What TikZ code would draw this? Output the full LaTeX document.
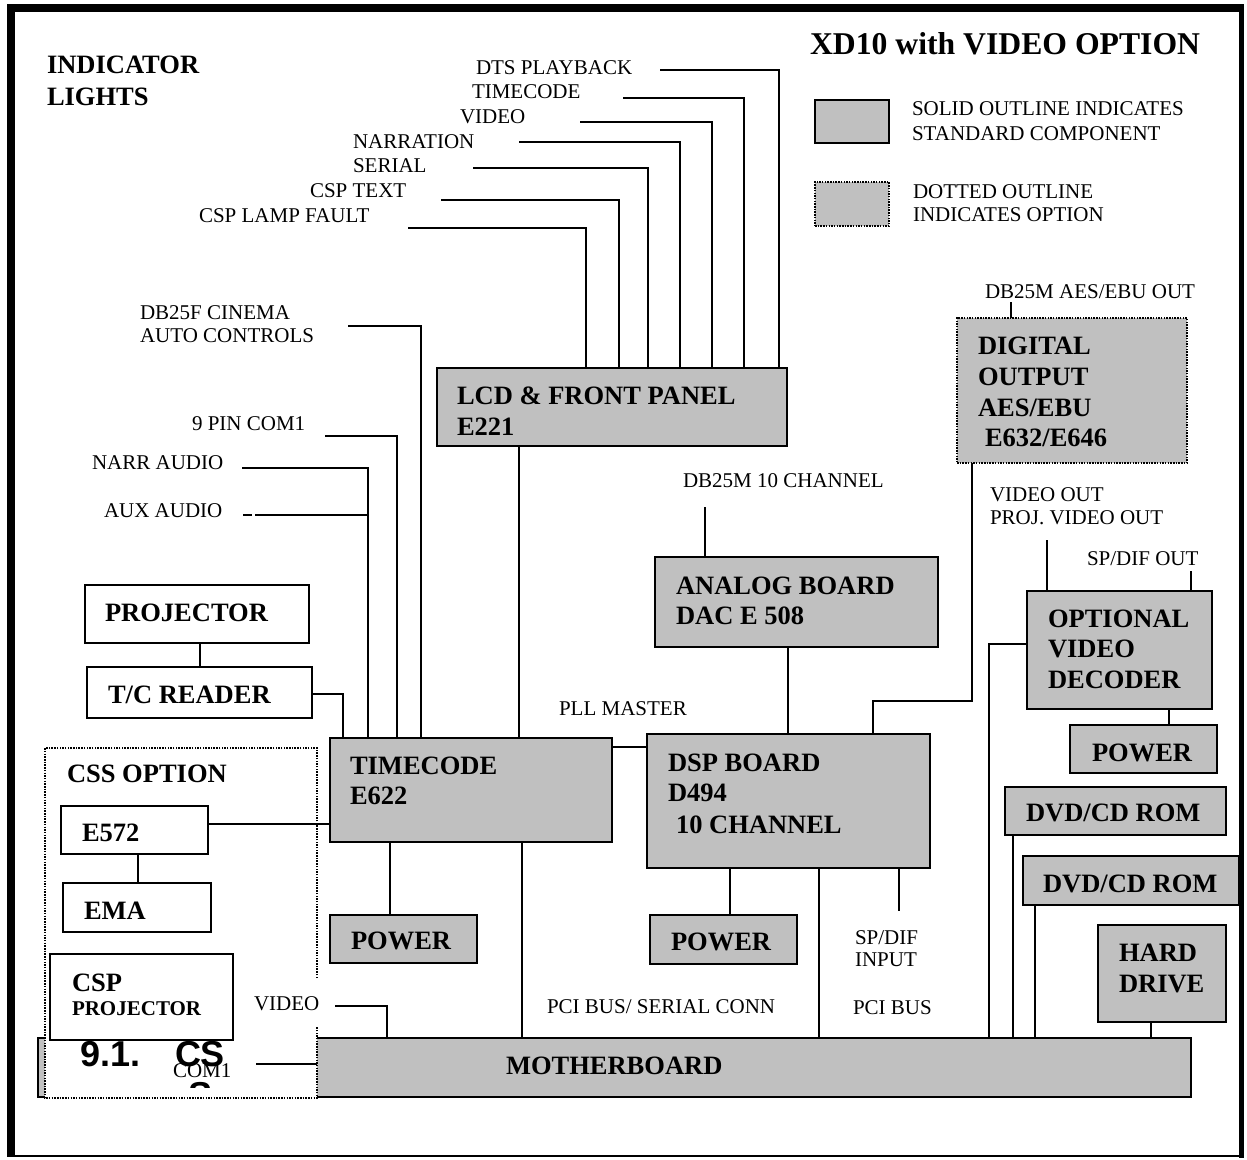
\documentclass[tikz,border=0pt]{standalone}
\usepackage{fontspec}
\setmainfont{Liberation Serif}
\newfontfamily\hsans{Liberation Sans}
\definecolor{boxgray}{RGB}{192,192,192}
\begin{document}
\begin{tikzpicture}[x=1pt,y=-1pt,
  every node/.style={inner sep=0pt, outer sep=0pt},
  box/.style={draw, line width=1.6pt, fill=boxgray, anchor=north west},
  wbox/.style={draw, line width=1.6pt, fill=white, anchor=north west},
  dbox/.style={draw, line width=1.5pt, dash pattern=on 1.5pt off 1.2pt, fill=boxgray, anchor=north west},
  conn/.style={line width=1.4pt},
  lab/.style={font=\fontsize{21}{24}\selectfont, anchor=base west},
  bt/.style={font=\fontsize{26.5}{30}\selectfont\bfseries, anchor=base west}]
\useasboundingbox (0,0) rectangle (1247,1159);
% frame
\draw[line width=8pt] (11,1156) -- (11,8) -- (1244,8);
\draw[line width=5.5pt] (1241.5,4) -- (1241.5,1158);
\draw[line width=2.5pt] (7,1156) -- (1244,1156);

% boxes
\node[box, minimum width=1153pt, minimum height=59pt] (mb) at (38,1038) {};
\fill[white] (45,748) rectangle (317,1098);
\draw[line width=1.5pt, dash pattern=on 1.5pt off 1.2pt] (317,978) -- (317,748) -- (45,748) -- (45,1098) -- (317,1098) -- (317,1027);
\node[box, minimum width=350pt, minimum height=78pt] (lcd) at (437,368) {};
\node[dbox, minimum width=230pt, minimum height=145pt] (dig) at (957,318) {};
\node[box, minimum width=283pt, minimum height=90pt] (ana) at (655,557) {};
\node[box, minimum width=282pt, minimum height=104pt] (tc) at (330,738) {};
\node[box, minimum width=283pt, minimum height=134pt] (dsp) at (647,734) {};
\node[wbox, minimum width=224pt, minimum height=58pt] (proj) at (85,585) {};
\node[wbox, minimum width=225pt, minimum height=51pt] (tcr) at (87,667) {};
\node[wbox, minimum width=147pt, minimum height=48pt] (e572) at (61,806) {};
\node[wbox, minimum width=148pt, minimum height=49pt] (ema) at (63,883) {};
\node[wbox, minimum width=183pt, minimum height=86pt] (csp) at (50,954) {};
\node[box, minimum width=147pt, minimum height=48pt] (pw1) at (330,915) {};
\node[box, minimum width=147pt, minimum height=49pt] (pw2) at (650,915) {};
\node[box, minimum width=185pt, minimum height=118pt] (ovd) at (1027,591) {};
\node[box, minimum width=147pt, minimum height=48pt] (pw3) at (1070,725) {};
\node[box, minimum width=221pt, minimum height=48pt] (dvd1) at (1005,787) {};
\node[box, minimum width=216pt, minimum height=49pt] (dvd2) at (1023,856) {};
\node[box, minimum width=128pt, minimum height=97pt] (hd) at (1098,925) {};
\node[box, minimum width=74pt, minimum height=43pt] (legs) at (815,100) {};
\node[dbox, minimum width=74pt, minimum height=44pt] (legd) at (815,182) {};

% free ends
\coordinate (cDTS) at (660,70);
\coordinate (cTC) at (623,98);
\coordinate (cVID) at (580,122);
\coordinate (cNAR) at (519,142);
\coordinate (cSER) at (473,168);
\coordinate (cTXT) at (441,200);
\coordinate (cLMP) at (408,228);
\coordinate (cDB25F) at (348,326);
\coordinate (c9PIN) at (325,436);
\coordinate (cNARR) at (242,468);
\coordinate (cAUX) at (255,515);
\coordinate (cDB10) at (705,507);
\coordinate (cAES) at (1011,302);
\coordinate (cSPIN) at (899,911);
\coordinate (cVOUT) at (1047,540);
\coordinate (cSPOUT) at (1191,571);
\coordinate (cVIDB) at (335,1006);
\coordinate (cCOM) at (256,1064);
\coordinate (cCOMe) at (317,1064);

% connectors
\draw[conn] (cDTS) -- (779,70) -- (lcd.north -| 779,0);
\draw[conn] (cTC) -- (744,98) -- (lcd.north -| 744,0);
\draw[conn] (cVID) -- (712,122) -- (lcd.north -| 712,0);
\draw[conn] (cNAR) -- (680,142) -- (lcd.north -| 680,0);
\draw[conn] (cSER) -- (648,168) -- (lcd.north -| 648,0);
\draw[conn] (cTXT) -- (619,200) -- (lcd.north -| 619,0);
\draw[conn] (cLMP) -- (586,228) -- (lcd.north -| 586,0);
\draw[conn] (cDB25F) -- (421,326) -- (tc.north -| 421,0);
\draw[conn] (c9PIN) -- (397,436) -- (tc.north -| 397,0);
\draw[conn] (cNARR) -- (368,468) -- (tc.north -| 368,0);
\draw[conn] (243,515) -- (252,515);
\draw[conn] (cAUX) -- (368,515);
\draw[conn] (tcr.east |- 0,694) -- (343,694) -- (tc.north -| 343,0);
\draw[conn] (proj.south -| 200,0) -- (tcr.north -| 200,0);
\draw[conn] (lcd.south -| 519,0) -- (tc.north -| 519,0);
\draw[conn] (tc.east |- 0,747) -- (dsp.west |- 0,747);
\draw[conn] (ana.south -| 788,0) -- (dsp.north -| 788,0);
\draw[conn] (cDB10) -- (ana.north -| 705,0);
\draw[conn] (dig.south -| 972,0) -- (972,701) -- (873,701) -- (dsp.north -| 873,0);
\draw[conn] (cAES) -- (dig.north -| 1011,0);
\draw[conn] (e572.east |- 0,824) -- (tc.west |- 0,824);
\draw[conn] (e572.south -| 138,0) -- (ema.north -| 138,0);
\draw[conn] (tc.south -| 390,0) -- (pw1.north -| 390,0);
\draw[conn] (tc.south -| 522,0) -- (mb.north -| 522,0);
\draw[conn] (dsp.south -| 730,0) -- (pw2.north -| 730,0);
\draw[conn] (dsp.south -| 819,0) -- (mb.north -| 819,0);
\draw[conn] (dsp.south -| 899,0) -- (cSPIN);
\draw[conn] (cVOUT) -- (ovd.north -| 1047,0);
\draw[conn] (cSPOUT) -- (ovd.north -| 1191,0);
\draw[conn] (ovd.west |- 0,644) -- (989,644) -- (mb.north -| 989,0);
\draw[conn] (ovd.south -| 1169,0) -- (pw3.north -| 1169,0);
\draw[conn] (dvd1.south -| 1013,0) -- (mb.north -| 1013,0);
\draw[conn] (dvd2.south -| 1035,0) -- (mb.north -| 1035,0);
\draw[conn] (hd.south -| 1151,0) -- (mb.north -| 1151,0);
\draw[conn] (cVIDB) -- (387,1006) -- (mb.north -| 387,0);
\draw[conn] (cCOM) -- (cCOMe);

% plain labels
\node[lab] (l1) at (476,74) {DTS PLAYBACK};
\node[lab] (l2) at (472,98) {TIMECODE};
\node[lab] (l3) at (460,123) {VIDEO};
\node[lab] (l4) at (353,148) {NARRATION};
\node[lab] (l5) at (353,172) {SERIAL};
\node[lab] (l6) at (310,197) {CSP TEXT};
\node[lab] (l7) at (199,222) {CSP LAMP FAULT};
\node[lab] (l8) at (140,319) {DB25F CINEMA};
\node[lab] (l9) at (140,342) {AUTO CONTROLS};
\node[lab] (l10) at (192,430) {9 PIN COM1};
\node[lab] (l11) at (92,469) {NARR AUDIO};
\node[lab] (l12) at (104,517) {AUX AUDIO};
\node[lab] (l13) at (683,487) {DB25M 10 CHANNEL};
\node[lab] (l14) at (559,715) {PLL MASTER};
\node[lab] (l15) at (985,298) {DB25M AES/EBU OUT};
\node[lab] (l16) at (990,501) {VIDEO OUT};
\node[lab] (l17) at (990,524) {PROJ. VIDEO OUT};
\node[lab] (l18) at (1087,565) {SP/DIF OUT};
\node[lab] (l19) at (855,944) {SP/DIF};
\node[lab] (l20) at (855,966) {INPUT};
\node[lab] (l21) at (853,1014) {PCI BUS};
\node[lab] (l22) at (547,1013) {PCI BUS/ SERIAL CONN};
\node[lab] (l23) at (254,1010) {VIDEO};
\node[lab] (l25) at (912,115) {SOLID OUTLINE INDICATES};
\node[lab] (l26) at (912,140) {STANDARD COMPONENT};
\node[lab] (l27) at (913,198) {DOTTED OUTLINE};
\node[lab] (l28) at (913,221) {INDICATES OPTION};

% bold texts
\node[anchor=base west, font=\fontsize{31.7}{36}\selectfont\bfseries] (title) at (810,54) {XD10 with VIDEO OPTION};
\node[bt] (b1) at (47,73) {INDICATOR};
\node[bt] (b2) at (47,105) {LIGHTS};
\node[bt] (b3) at (457,404) {LCD \& FRONT PANEL};
\node[bt] (b4) at (457,435) {E221};
\node[bt] (b5) at (978,354) {DIGITAL};
\node[bt] (b6) at (978,385) {OUTPUT};
\node[bt] (b7) at (978,416) {AES/EBU};
\node[bt] (b8) at (985,446) {E632/E646};
\node[bt] (b9) at (676,594) {ANALOG BOARD};
\node[bt] (b10) at (676,624) {DAC E 508};
\node[bt] (b11) at (105,621) {PROJECTOR};
\node[bt] (b12) at (108,703) {T/C READER};
\node[bt] (b13) at (67,782) {CSS OPTION};
\node[bt] (b14) at (350,774) {TIMECODE};
\node[bt] (b15) at (350,804) {E622};
\node[bt] (b16) at (668,771) {DSP BOARD};
\node[bt] (b17) at (668,801) {D494};
\node[bt] (b18) at (676,833) {10 CHANNEL};
\node[bt] (b19) at (82,841) {E572};
\node[bt] (b20) at (84,919) {EMA};
\node[bt] (b21) at (351,949) {POWER};
\node[bt] (b22) at (671,950) {POWER};
\node[bt] (b23) at (1092,761) {POWER};
\node[bt] (b24) at (72,991) {CSP};
\node[anchor=base west, font=\fontsize{21}{24}\selectfont\bfseries] (b25) at (72,1015) {PROJECTOR};
\node[bt] (b26) at (1048,627) {OPTIONAL};
\node[bt] (b27) at (1048,657) {VIDEO};
\node[bt] (b28) at (1048,688) {DECODER};
\node[bt] (b29) at (1026,821) {DVD/CD ROM};
\node[bt] (b30) at (1043,892) {DVD/CD ROM};
\node[bt] (b31) at (1119,961) {HARD};
\node[bt] (b32) at (1119,992) {DRIVE};
\node[bt] (b33) at (506,1074) {MOTHERBOARD};

% heading fragment
\node[anchor=base west, font=\hsans\fontsize{36}{40}\selectfont\bfseries] (h1) at (80,1066) {9.1.};
\node[anchor=base west, font=\hsans\fontsize{36}{40}\selectfont\bfseries] (h2) at (175,1066) {CS};
\begin{scope}
\clip (150,1070) rectangle (250,1087);
\node[anchor=base, font=\hsans\fontsize{36}{40}\selectfont\bfseries] (h3) at (201,1107) {S};
\end{scope}
\node[lab] (l24) at (173,1077) {COM1};
\end{tikzpicture}
\end{document}
